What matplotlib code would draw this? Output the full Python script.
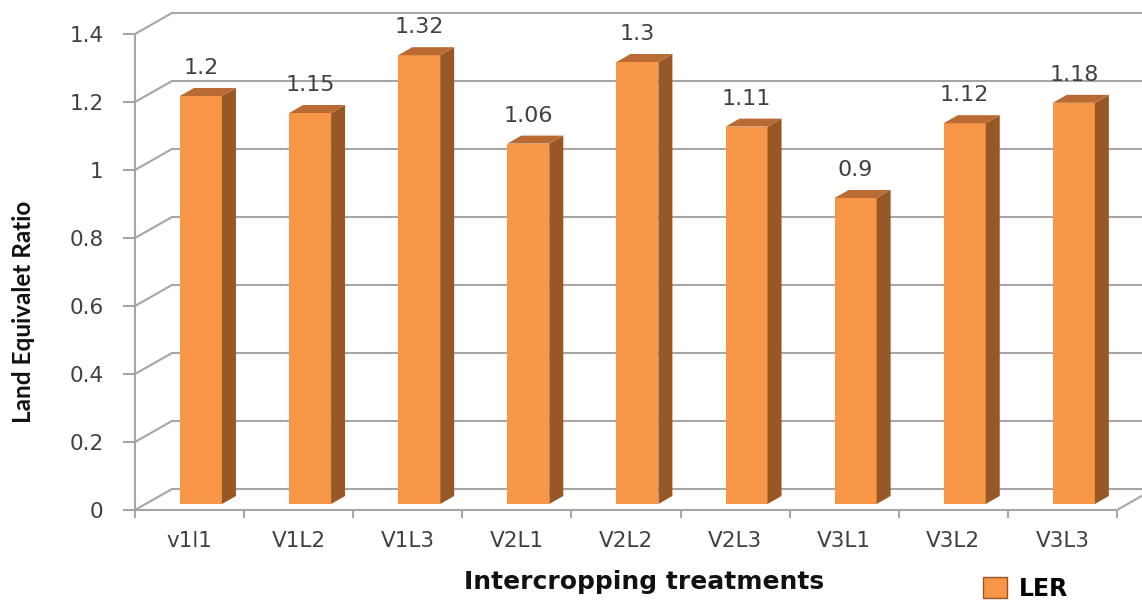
import numpy as np
import matplotlib
matplotlib.use("Agg")
import matplotlib.pyplot as plt
from matplotlib.patches import Polygon, Patch

# ---- data ----
treatments = ["v1l1", "V1L2", "V1L3", "V2L1", "V2L2", "V2L3", "V3L1", "V3L2", "V3L3"]
ler = [1.2, 1.15, 1.32, 1.06, 1.3, 1.11, 0.9, 1.12, 1.18]
yticks = [0, 0.2, 0.4, 0.6, 0.8, 1, 1.2, 1.4]
ytick_labels = ["0", "0.2", "0.4", "0.6", "0.8", "1", "1.2", "1.4"]

FRONT, SIDE, TOP = "#F79646", "#985826", "#B96B33"
GRID, TXT, INK = "#A6A6A6", "#404040", "#111111"

W, H = 1142, 603
n = len(treatments)
fig = plt.figure(figsize=(W / 100, H / 100), dpi=100)
ax = fig.add_axes([135 / W, 1 - 510 / H, 982 / W, 476 / H])
ax.set_xlim(0, n)
ax.set_ylim(0, 1.4)

# pixel -> data factors for the fake 3d depth
px_x = n / 982
px_y = 1.4 / 476
wall_dx, wall_dy = 37 * px_x, 21 * px_y
bar_dy = 6 * px_y
side_dx, side_dy = 14 * px_x, 8 * px_y
bar_left, bar_w = 0.412, 0.385

# back wall gridlines with the diagonal from the front axis
for v in yticks:
    ax.plot([0, wall_dx, n + wall_dx], [v, v + wall_dy, v + wall_dy],
            color=GRID, lw=1.5, clip_on=False, zorder=1)
ax.plot([n, n + wall_dx], [0, wall_dy], color=GRID, lw=1.5, clip_on=False, zorder=1)

# bars: front, side, top faces
for i, v in enumerate(ler):
    xl = i + bar_left
    xr = xl + bar_w
    y0, yt = bar_dy, v + bar_dy
    ax.add_patch(Polygon([(xl, y0), (xr, y0), (xr, yt), (xl, yt)],
                         closed=True, facecolor=FRONT, edgecolor="none", zorder=3))
    ax.add_patch(Polygon([(xr, y0), (xr + side_dx, y0 + side_dy), (xr + side_dx, yt + side_dy), (xr, yt)],
                         closed=True, facecolor=SIDE, edgecolor="none", zorder=3))
    ax.add_patch(Polygon([(xl, yt), (xl + side_dx, yt + side_dy), (xr + side_dx, yt + side_dy), (xr, yt)],
                         closed=True, facecolor=TOP, edgecolor="none", zorder=3))
    ax.annotate(f"{v:g}", (xl + bar_w / 2, yt), xytext=(0, 18), textcoords="offset pixels",
                ha="center", va="bottom", fontsize=16, color=TXT, zorder=4)

for s in ["top", "right"]:
    ax.spines[s].set_visible(False)
for s in ["left", "bottom"]:
    ax.spines[s].set_color(GRID)
    ax.spines[s].set_linewidth(1.5)
    ax.spines[s].set_zorder(2)

ax.set_yticks(yticks, ytick_labels)
ax.tick_params(axis="y", length=8.6, width=1.5, color=GRID, pad=14, labelsize=15.5, labelcolor=TXT)
ax.set_xticks(np.arange(n + 1))
ax.set_xticklabels([])
ax.set_xticks(np.arange(n) + 0.5, treatments, minor=True)
ax.tick_params(axis="x", which="major", length=5.8, width=1.5, color=GRID)
ax.tick_params(axis="x", which="minor", length=0, pad=15, labelsize=15.5, labelcolor=TXT)

fig.text(24 / W, 1 - 312 / H, "Land Equivalet Ratio", rotation=90, ha="center", va="center",
         fontsize=17.5, fontweight="bold", family="Lato", color=INK)
fig.text(644 / W, 1 - 582 / H, "Intercropping treatments", ha="center", va="center",
         fontsize=18, fontweight="bold", color=INK)

fig.legend(handles=[Patch(facecolor=FRONT, edgecolor=SIDE)], labels=["LER"],
           loc="center left", bbox_to_anchor=(962 / W, 1 - 589 / H), frameon=False,
           handlelength=1.0, handleheight=1.0, handletextpad=0.5,
           prop={"weight": "bold", "size": 17})

fig.savefig("out.png", dpi=100)
